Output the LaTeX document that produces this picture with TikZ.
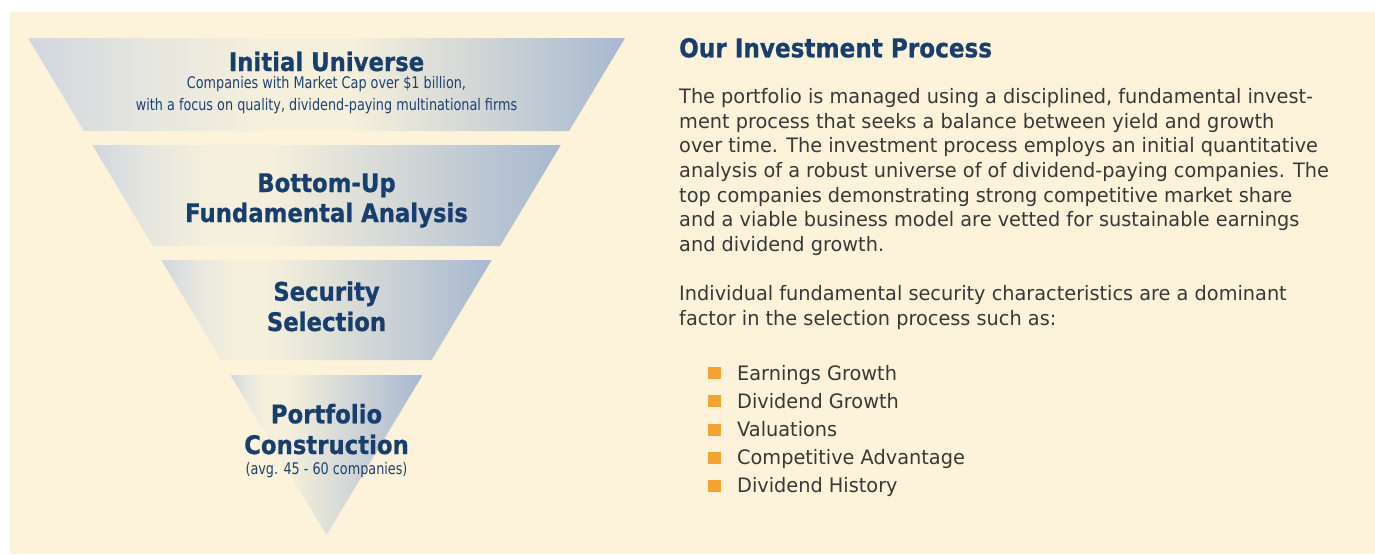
\documentclass[tikz,border=0pt]{standalone}
\usepackage{fontspec}
\setmainfont{DejaVu Sans}
\newfontfamily\headfont[FakeStretch=0.89, BoldFeatures={FakeBold=0.7}]{DejaVu Sans}
\newfontfamily\subfont[FakeStretch=0.80]{DejaVu Sans}
\newfontfamily\bodyfont[FakeStretch=0.97]{DejaVu Sans}
\definecolor{bgcream}{HTML}{FCF3DA}
\definecolor{navy}{HTML}{173E6C}
\definecolor{subnavy}{HTML}{1E416E}
\definecolor{bodygray}{HTML}{383838}
\definecolor{bulorange}{HTML}{F4A232}
\definecolor{fL}{HTML}{D1D7DE}
\definecolor{fM}{HTML}{E6E6E0}
\definecolor{fC}{HTML}{F5F0DC}
\definecolor{fR}{HTML}{A8B8D0}
\pgfdeclarehorizontalshading{bandA}{100bp}{color(0bp)=(fL); color(25bp)=(fL); color(35bp)=(fM); color(45bp)=(fC); color(52bp)=(fC); color(75bp)=(fR); color(100bp)=(fR)}
\pgfdeclarehorizontalshading{bandB}{100bp}{color(0bp)=(fL); color(25bp)=(fL); color(31bp)=(fM); color(37.5bp)=(fC); color(44bp)=(fC); color(75bp)=(fR); color(100bp)=(fR)}
\pgfdeclarehorizontalshading{bandC}{100bp}{color(0bp)=(fL); color(25bp)=(fL); color(30bp)=(fM); color(36bp)=(fC); color(41bp)=(fC); color(75bp)=(fR); color(100bp)=(fR)}
\pgfdeclarehorizontalshading{bandD}{100bp}{color(0bp)=(fL); color(25bp)=(fL); color(29bp)=(fM); color(34bp)=(fC); color(40bp)=(fC); color(75bp)=(fR); color(100bp)=(fR)}
\tikzset{
  head/.style={inner sep=0pt, anchor=base, text=navy, font=\headfont\bfseries\fontsize{25.6}{30}\selectfont},
  rhead/.style={inner sep=0pt, anchor=base west, text=navy, font=\headfont\bfseries\fontsize{26}{30}\selectfont},
  sub/.style={inner sep=0pt, anchor=base, text=subnavy, font=\subfont\fontsize{16}{20}\selectfont},
  body/.style={inner sep=0pt, anchor=base west, text=bodygray, font=\bodyfont\fontsize{19.9}{24.7}\selectfont},
  bul/.style={inner sep=0pt, minimum width=12.5pt, minimum height=12pt, fill=bulorange, draw=none}
}
\begin{document}
\begin{tikzpicture}[x=1pt,y=-1pt]
\useasboundingbox (0,0) rectangle (1375,554);
\fill[white] (0,0) rectangle (1375,554);
\fill[bgcream] (10,12) rectangle (1375,554);
% funnel bands
\shade[shading=bandA] (28,38) -- (625,38) -- (569.1,131) -- (83.9,131) -- cycle;
\shade[shading=bandB] (92.3,145) -- (560.7,145) -- (500.1,246) -- (152.9,246) -- cycle;
\shade[shading=bandC] (161.3,260) -- (491.7,260) -- (431.6,360) -- (221.4,360) -- cycle;
\shade[shading=bandD] (230.4,375) -- (422.6,375) -- (326.5,535) -- cycle;
% funnel texts
\node[head] (iu) at (326.5,71) {Initial Universe};
\node[sub] (iu1) at (326.5,88) {Companies with Market Cap over \$1 billion,};
\node[sub] (iu2) at (326.5,110) {with a focus on quality, dividend-paying multinational firms};
\node[head] (bu1) at (326.5,192) {Bottom-Up};
\node[head] (bu2) at (326.5,222) {Fundamental Analysis};
\node[head] (ss1) at (326.5,300.7) {Security};
\node[head] (ss2) at (326.5,331) {Selection};
\node[head] (pc1) at (326.5,423.3) {Portfolio};
\node[head] (pc2) at (326.5,454) {Construction};
\node[sub] (pc3) at (326.5,474) {(avg. 45 - 60 companies)};
% right column
\node[rhead] (oip) at (679,57.3) {Our Investment Process};
\node[body] (l1) at (679,103.3) {The portfolio is managed using a disciplined, fundamental invest-};
\node[body] (l2) at (679,128.0) {ment process that seeks a balance between yield and growth};
\node[body] (l3) at (679,152.7) {over time. The investment process employs an initial quantitative};
\node[body] (l4) at (679,177.4) {analysis of a robust universe of of dividend-paying companies. The};
\node[body] (l5) at (679,202.1) {top companies demonstrating strong competitive market share};
\node[body] (l6) at (679,226.8) {and a viable business model are vetted for sustainable earnings};
\node[body] (l7) at (679,251.5) {and dividend growth.};
\node[body] (m1) at (679,300.7) {Individual fundamental security characteristics are a dominant};
\node[body] (m2) at (679,325.0) {factor in the selection process such as:};
\node[bul] (b1) at (714.5,373.2) {};
\node[bul] (b2) at (714.5,401.4) {};
\node[bul] (b3) at (714.5,429.6) {};
\node[bul] (b4) at (714.5,457.8) {};
\node[bul] (b5) at (714.5,486.0) {};
\node[body] (t1) at (737,380.0) {Earnings Growth};
\node[body] (t2) at (737,408.2) {Dividend Growth};
\node[body] (t3) at (737,436.4) {Valuations};
\node[body] (t4) at (737,464.6) {Competitive Advantage};
\node[body] (t5) at (737,492.8) {Dividend History};
\end{tikzpicture}
\end{document}
